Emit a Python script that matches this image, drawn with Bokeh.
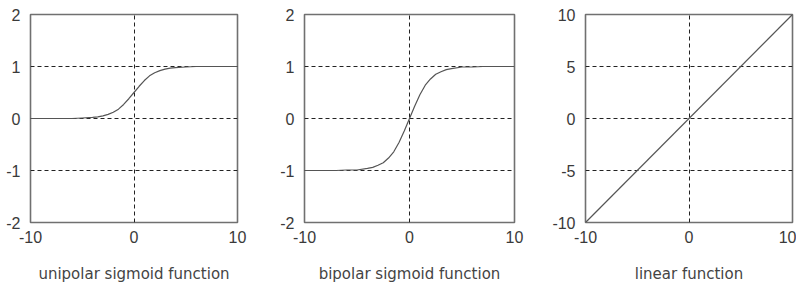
from bokeh.plotting import figure
from bokeh.layouts import row
from bokeh.models import Range1d, FixedTicker
from bokeh.embed import file_html
from bokeh.resources import INLINE

# ---- data ----
x_sig = [-10, -9, -8, -7, -6, -5, -4, -3.5, -3, -2.5, -2, -1.5, -1, -0.5, 0,
         0.5, 1, 1.5, 2, 2.5, 3, 3.5, 4, 5, 6, 7, 8, 9, 10]
y_unipolar = [0.0, 0.0, 0.0, 0.0, 0.0, 0.01, 0.02, 0.03, 0.05, 0.08, 0.12, 0.18,
              0.27, 0.38, 0.5, 0.62, 0.73, 0.82, 0.88, 0.92, 0.95, 0.97, 0.98,
              0.99, 1.0, 1.0, 1.0, 1.0, 1.0]
y_bipolar = [-1.0, -1.0, -1.0, -1.0, -0.99, -0.99, -0.96, -0.94, -0.9, -0.85,
             -0.76, -0.64, -0.46, -0.24, 0.0, 0.24, 0.46, 0.64, 0.76, 0.85, 0.9,
             0.94, 0.96, 0.99, 0.99, 1.0, 1.0, 1.0, 1.0]
x_lin = [-10, 10]
y_lin = [-10, 10]

x_ticks = [-10, 0, 10]
y_ticks_sig = [-2, -1, 0, 1, 2]
y_ticks_lin = [-10, -5, 0, 5, 10]
titles = ["unipolar sigmoid function", "bipolar sigmoid function", "linear function"]

TICK_FONT = "Liberation Sans"
TITLE_FONT = "DejaVu Sans"


def labels(ticks):
    return {t: str(t) for t in ticks}


def make_panel(xs, ys, yr, yticks, title, fw, left, right):
    p = figure(frame_width=fw, frame_height=208,
               min_border_left=left, min_border_right=right,
               min_border_top=14, min_border_bottom=60,
               x_range=Range1d(-10, 10), y_range=Range1d(*yr),
               output_backend="svg", toolbar_location=None)
    p.line(xs, ys, line_color="#555555", line_width=1.2)
    p.outline_line_color = "#707070"
    p.outline_line_width = 1.6
    p.background_fill_color = "white"
    p.border_fill_color = "white"

    p.xaxis.ticker = FixedTicker(ticks=x_ticks)
    p.yaxis.ticker = FixedTicker(ticks=yticks)
    p.xaxis.major_label_overrides = labels(x_ticks)
    p.yaxis.major_label_overrides = labels(yticks)
    for ax in (p.xaxis, p.yaxis):
        ax.axis_line_color = None
        ax.major_tick_line_color = None
        ax.minor_tick_line_color = None
        ax.major_label_text_font = TICK_FONT
        ax.major_label_text_font_size = "16px"
        ax.major_label_text_color = "#3a3a3a"
    p.xaxis.major_label_standoff = 2
    p.yaxis.major_label_standoff = 4
    p.xaxis.axis_label = title
    p.xaxis.axis_label_text_font = TITLE_FONT
    p.xaxis.axis_label_text_font_size = "15px"
    p.xaxis.axis_label_text_font_style = "normal"
    p.xaxis.axis_label_text_color = "#444444"
    p.xaxis.axis_label_standoff = 19

    p.xgrid.ticker = FixedTicker(ticks=x_ticks)
    p.ygrid.ticker = FixedTicker(ticks=yticks)
    for g in (p.xgrid, p.ygrid):
        g.grid_line_color = "#222222"
        g.grid_line_dash = "4 3"
        g.grid_line_width = 1
    return p


p1 = make_panel(x_sig, y_unipolar, (-2, 2), y_ticks_sig, titles[0], 207, 30, 35)
p2 = make_panel(x_sig, y_bipolar, (-2, 2), y_ticks_sig, titles[1], 210, 32, 35)
p3 = make_panel(x_lin, y_lin, (-10, 10), y_ticks_lin, titles[2], 207, 32, 4)

layout = row(p1, p2, p3)
open("out.html", "w").write(file_html(layout, INLINE))
